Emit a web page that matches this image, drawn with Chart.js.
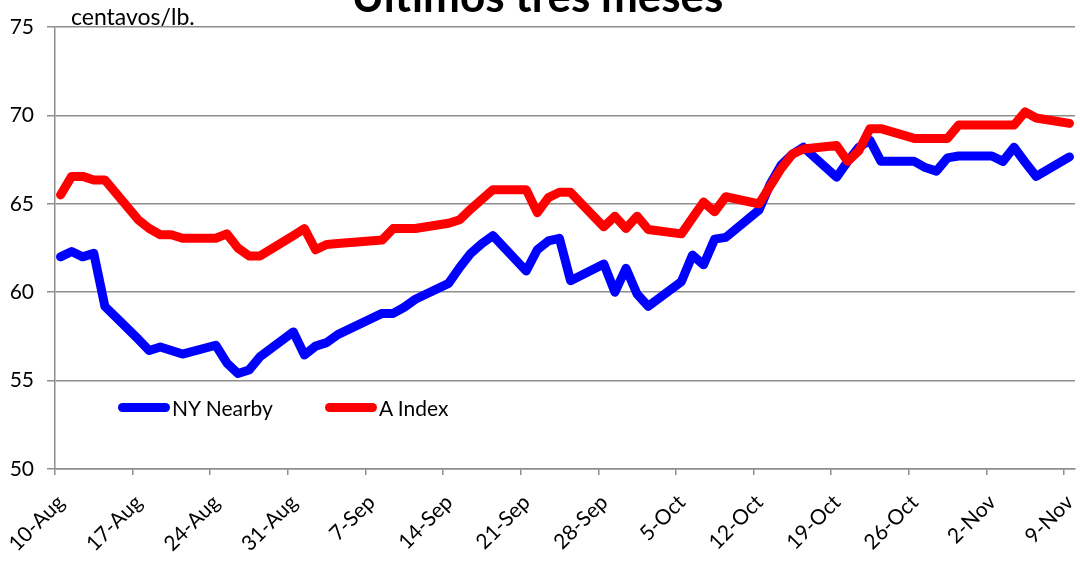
<!DOCTYPE html>
<html>
<head>
<meta charset="utf-8">
<script src="https://cdn.jsdelivr.net/npm/chart.js@4.4.1/dist/chart.umd.min.js"></script>
<style>
html, body { margin: 0; padding: 0; background: #fff; overflow: hidden; }
#wrap { position: relative; width: 1080px; height: 561px; overflow: hidden; }
#chart { position: absolute; left: 0; top: -24px; }
#legend { position: absolute; left: 118px; top: 395px; font: 21px Lato, sans-serif; display: flex; color: #000; }
.item { display: flex; align-items: center; margin-right: 52px; }
.swatch { width: 52px; height: 9px; border-radius: 5px; margin-right: 2px; }
</style>
</head>
<body>
<div id="wrap">
  <canvas id="chart" width="1080" height="585"></canvas>
  <div id="legend"></div>
</div>
<script>
// days counted from 10-Aug (trading days only)
var days = [0, 1, 2, 3, 4, 7, 8, 9, 10, 11, 14, 15, 16, 17, 18, 21, 22, 23, 24, 25,
  29, 30, 31, 32, 35, 36, 37, 38, 39, 42, 43, 44, 45, 46, 49, 50, 51, 52, 53,
  56, 57, 58, 59, 60, 63, 64, 65, 66, 67, 70, 71, 72, 73, 74, 77, 78, 79, 80, 81,
  84, 85, 86, 87, 88, 91];

var nyNearby = [62.0, 62.3, 62.0, 62.2, 59.2, 57.35, 56.7, 56.9, 56.7, 56.5,
  57.0, 56.0, 55.4, 55.6, 56.35, 57.75, 56.45, 56.95, 57.15, 57.6,
  58.8, 58.8, 59.15, 59.6, 60.5, 61.4, 62.2, 62.75, 63.2,
  61.2, 62.4, 62.9, 63.05, 60.65, 61.6, 60.0, 61.35, 59.9, 59.2,
  60.6, 62.1, 61.55, 63.0, 63.1, 64.65, 66.1, 67.2, 67.8, 68.2,
  66.5, 67.4, 68.2, 68.6, 67.4, 67.4, 67.05, 66.85, 67.6, 67.7,
  67.7, 67.4, 68.2, 67.35, 66.55, 67.65];

var aIndex = [65.5, 66.55, 66.55, 66.35, 66.35, 64.1, 63.6, 63.25, 63.25, 63.05,
  63.05, 63.3, 62.5, 62.05, 62.05, 63.2, 63.6, 62.4, 62.7, 62.75,
  62.95, 63.6, 63.6, 63.6, 63.9, 64.1, 64.7, 65.25, 65.8,
  65.8, 64.5, 65.35, 65.65, 65.65, 63.7, 64.3, 63.6, 64.3, 63.55,
  63.3, 64.2, 65.1, 64.55, 65.4, 65.0, 66.0, 67.0, 67.8, 68.1,
  68.3, 67.4, 68.0, 69.25, 69.25, 68.7, 68.7, 68.7, 68.7, 69.45,
  69.45, 69.45, 69.45, 70.2, 69.85, 69.55];

var tickLabels = ['10-Aug', '17-Aug', '24-Aug', '31-Aug', '7-Sep', '14-Sep', '21-Sep',
  '28-Sep', '5-Oct', '12-Oct', '19-Oct', '26-Oct', '2-Nov', '9-Nov'];

function pts(vals) {
  return vals.map(function(v, i){ return {x: days[i], y: v}; });
}

var grey = '#8e8e8e';
Chart.defaults.font.family = 'Lato, sans-serif';
Chart.defaults.color = '#000';

var unitLabel = {
  id: 'unitLabel',
  afterDraw: function(chart){
    var ctx = chart.ctx, a = chart.chartArea;
    ctx.save();
    ctx.font = '23px Lato, sans-serif';
    ctx.fillStyle = '#000';
    ctx.textBaseline = 'alphabetic';
    ctx.fillText('centavos/lb.', a.left + 16, a.top - 2);
    ctx.restore();
  }
};

var chart = new Chart(document.getElementById('chart'), {
  type: 'line',
  data: {
    datasets: [
      {label: 'NY Nearby', data: pts(nyNearby), borderColor: '#0000ff', backgroundColor: '#0000ff', order: 1},
      {label: 'A Index', data: pts(aIndex), borderColor: '#ff0000', backgroundColor: '#ff0000', order: 0}
    ]
  },
  options: {
    responsive: false,
    animation: false,
    devicePixelRatio: 1,
    layout: {padding: {left: 0, right: 5, top: 0, bottom: 0}},
    elements: {
      point: {radius: 0},
      line: {borderWidth: 9, tension: 0, borderJoinStyle: 'round', borderCapStyle: 'round'}
    },
    plugins: {
      legend: {display: false},
      tooltip: {enabled: false},
      title: {
        display: true,
        text: 'Últimos tres meses',
        font: {size: 44, weight: 'bold', lineHeight: 1},
        color: '#000',
        padding: {top: 0, bottom: 7}
      }
    },
    scales: {
      x: {
        type: 'linear',
        min: -0.5,
        max: 91.5,
        afterBuildTicks: function(scale){
          scale.ticks = tickLabels.map(function(l, i){ return {value: i * 7 - 0.5}; });
        },
        afterFit: function(scale){
          scale.height = 92;
          scale.paddingLeft = 0;
          scale.paddingRight = 0;
        },
        ticks: {
          autoSkip: false,
          minRotation: 45,
          maxRotation: 45,
          padding: 15,
          labelOffset: 6,
          font: {size: 21},
          callback: function(v, i){ return tickLabels[i]; }
        },
        grid: {drawOnChartArea: false, color: grey, lineWidth: 1.5, tickLength: 6},
        border: {color: grey, width: 1.5}
      },
      y: {
        min: 50,
        max: 75,
        afterFit: function(scale){ scale.width = 55; },
        ticks: {stepSize: 5, padding: 13, font: {size: 21}},
        grid: {color: grey, lineWidth: 1.5, tickLength: 8},
        border: {color: grey, width: 1.5}
      }
    }
  },
  plugins: [unitLabel]
});

// legend in series order
var leg = document.getElementById('legend');
[0, 1].forEach(function(i){
  var ds = chart.data.datasets[i];
  var item = document.createElement('div');
  item.className = 'item';
  var sw = document.createElement('span');
  sw.className = 'swatch';
  sw.style.background = ds.borderColor;
  var tx = document.createElement('span');
  tx.textContent = ds.label;
  item.appendChild(sw);
  item.appendChild(tx);
  leg.appendChild(item);
});
</script>
</body>
</html>
